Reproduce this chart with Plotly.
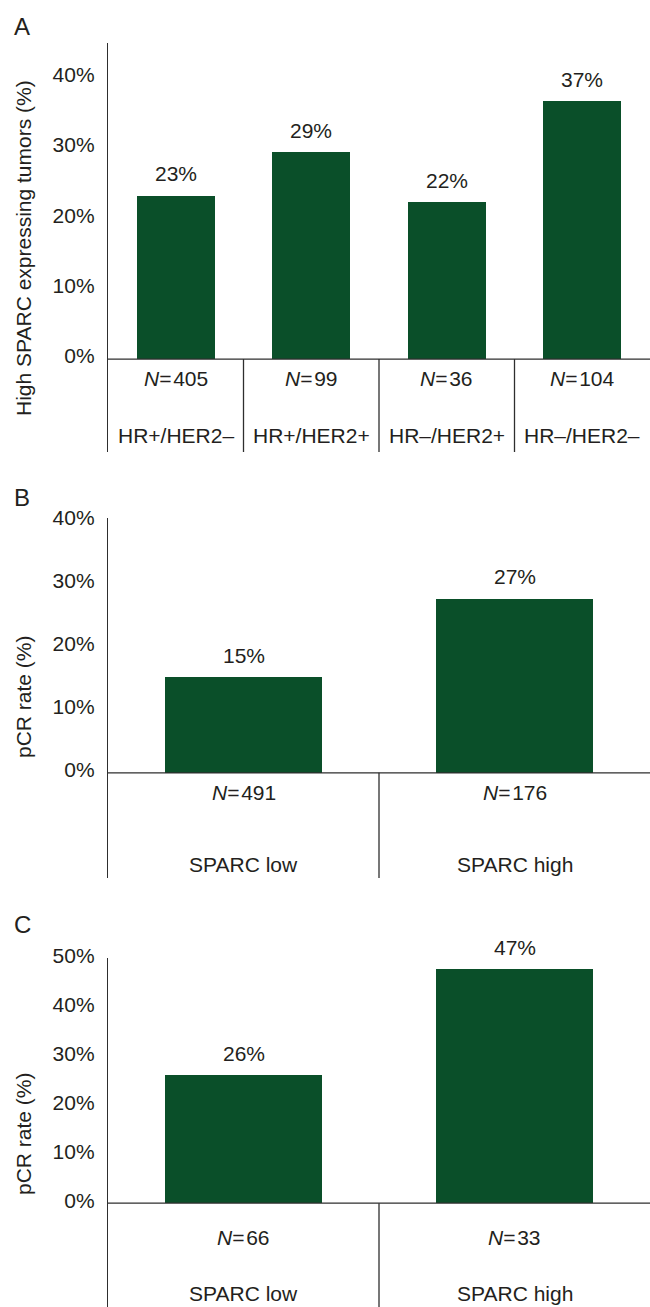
import plotly.graph_objects as go

# ---------------- data ----------------
a_categories = ["HR+/HER2–", "HR+/HER2+", "HR–/HER2+", "HR–/HER2–"]
a_values = [23.2, 29.4, 22.3, 36.6]
a_value_labels = ["23%", "29%", "22%", "37%"]
a_n = [405, 99, 36, 104]

b_categories = ["SPARC low", "SPARC high"]
b_values = [15.2, 27.6]
b_value_labels = ["15%", "27%"]
b_n = [491, 176]

c_categories = ["SPARC low", "SPARC high"]
c_values = [26.1, 47.7]
c_value_labels = ["26%", "47%"]
c_n = [66, 33]

a_ticks = [0, 10, 20, 30, 40]
b_ticks = [0, 10, 20, 30, 40]
c_ticks = [0, 10, 20, 30, 40, 50]
tick_text = lambda t: [f"{v}%" for v in t]

# ---------------- style ----------------
W, H = 650, 1307
L = 108
BAR = "#0a4f29"
TXT = "#231f20"
AX = "#2e2e2e"
FONT = "Liberation Sans, Arial, Helvetica, sans-serif"
FS = 21

fig = go.Figure()

panels = [
    (a_categories, a_values, a_value_labels, a_n, a_ticks, [-13.2, 44.9],
     [1 - 452 / H, 1 - 43 / H], -2.7, -10.8, "High SPARC expressing tumors (%)", 1 - 248 / H, "A", 1 - 27 / H, 0.576),
    (b_categories, b_values, b_value_labels, b_n, b_ticks, [-16.7, 40.4],
     [1 - 878 / H, 1 - 518.3 / H], -3.2, -14.6, "pCR rate (%)", 1 - 697 / H, "B", 1 - 497 / H, 0.58),
    (c_categories, c_values, c_value_labels, c_n, c_ticks, [-21.2, 50.0],
     [0, 1 - 958.3 / H], -7.1, -18.4, "pCR rate (%)", 1 - 1134 / H, "C", 1 - 925 / H, 0.58),
]

shapes = []
annotations = []
layout_axes = {}

for i, (cats, vals, labs, ns, ticks, yr, dom, n_y, name_y, ytitle, ty, letter, ly, bw) in enumerate(panels, start=1):
    sfx = "" if i == 1 else str(i)
    xa, ya = f"x{sfx}", f"y{sfx}"
    xs = list(range(len(cats)))
    fig.add_trace(go.Bar(
        x=xs, y=vals, width=bw, xaxis=xa, yaxis=ya,
        marker=dict(color=BAR, line=dict(width=0)),
        hoverinfo="skip", showlegend=False,
    ))
    layout_axes[f"xaxis{sfx}"] = dict(
        domain=[0, 1], range=[-0.5, len(cats) - 0.5], anchor=ya,
        visible=False, fixedrange=True, automargin=False,
    )
    layout_axes[f"yaxis{sfx}"] = dict(
        domain=dom, range=yr, anchor=xa,
        tickvals=ticks, ticktext=tick_text(ticks),
        showline=True, linecolor=AX, linewidth=1.3,
        showgrid=False, zeroline=False, ticks="",
        ticklabelstandoff=8, ticklabelshift=-3,
        tickfont=dict(family=FONT, size=FS, color=TXT),
        fixedrange=True, automargin=False,
    )
    shapes.append(dict(type="line", xref=f"{xa} domain", yref=ya, x0=0, x1=1, y0=0, y1=0,
                       line=dict(color=AX, width=1.3)))
    for k in range(1, len(cats)):
        shapes.append(dict(type="line", xref=xa, yref=ya, x0=k - 0.5, x1=k - 0.5,
                           y0=yr[0], y1=0, line=dict(color=AX, width=1.3)))
    for x, v, lab, n, c in zip(xs, vals, labs, ns, cats):
        annotations.append(dict(xref=xa, yref=ya, x=x, y=v, text=lab, showarrow=False,
                                yanchor="middle", yshift=22,
                                font=dict(family=FONT, size=FS, color=TXT)))
        annotations.append(dict(xref=xa, yref=ya, x=x, y=n_y, text=f"<i>N</i>=&#8202;{n}",
                                showarrow=False, yanchor="middle",
                                font=dict(family=FONT, size=FS, color=TXT)))
        annotations.append(dict(xref=xa, yref=ya, x=x, y=name_y, text=c,
                                showarrow=False, yanchor="middle",
                                font=dict(family=FONT, size=FS, color=TXT)))
    annotations.append(dict(xref="paper", yref="paper", x=(23 - L) / (W - L), y=ty,
                            text=ytitle, textangle=-90, showarrow=False,
                            xanchor="center", yanchor="middle",
                            font=dict(family=FONT, size=FS, color=TXT)))
    annotations.append(dict(xref="paper", yref="paper", x=(22 - L) / (W - L), y=ly,
                            text=letter, showarrow=False, xanchor="center", yanchor="middle",
                            font=dict(family=FONT, size=24, color=TXT)))

fig.update_layout(
    template="none",
    width=W, height=H, autosize=False,
    margin=dict(l=L, r=0, t=0, b=0, pad=0, autoexpand=False),
    paper_bgcolor="white", plot_bgcolor="white",
    font=dict(family=FONT, size=FS, color=TXT),
    shapes=shapes, annotations=annotations,
    bargap=0, showlegend=False,
    **layout_axes,
)

post = (
    "document.body.style.margin='0';"
    "document.body.style.overflow='hidden';"
    "var gd=document.getElementsByClassName('plotly-graph-div')[0];"
    "gd.style.position='absolute';gd.style.left='0px';gd.style.top='0px';"
)

fig.write_html("out.html", config={"displayModeBar": False}, post_script=post)
